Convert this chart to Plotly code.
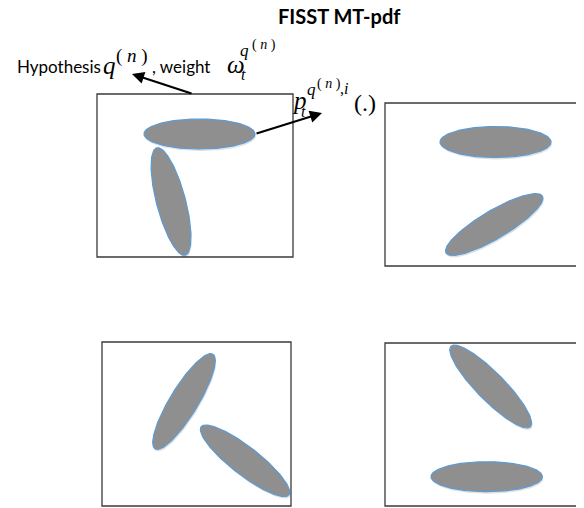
import numpy as np
import plotly.graph_objects as go

# ---- diagram data (pixel coordinates of the 584x508 canvas, y downward) ----
box_x0 = [97, 385, 102, 385]
box_y0 = [94, 103, 342, 343]
box_x1 = [293, 581, 291, 580]
box_y1 = [257, 266, 506, 506]

ell_cx = [199.5, 171.0, 495.5, 494.2, 184.0, 245.0, 490.7, 486.7]
ell_cy = [134.0, 201.5, 142.0, 224.5, 401.5, 460.8, 386.5, 476.7]
ell_a = [55.5, 55.5, 55.5, 56.0, 55.5, 55.5, 56.5, 55.7]
ell_b = [15.0, 14.5, 15.5, 14.0, 14.0, 14.0, 14.0, 15.0]
ell_angle = [0.0, 75.2, 0.0, -30.6, -58.6, 37.8, 45.4, 0.0]

title_text = "FISST MT-pdf"

W, H = 584, 508
OFF = 8  # page body margin
fig = go.Figure()

t = np.linspace(0, 2 * np.pi, 200)
for cx, cy, a, b, ang in zip(ell_cx, ell_cy, ell_a, ell_b, ell_angle):
    th = np.deg2rad(ang)
    xs = cx + a * np.cos(th) * np.cos(t) - b * np.sin(th) * np.sin(t)
    ys = cy + a * np.sin(th) * np.cos(t) + b * np.cos(th) * np.sin(t)
    fig.add_trace(go.Scatter(x=xs + 1.0, y=ys + 2.0, mode="lines", fill="toself",
                             fillcolor="rgba(0,0,0,0.12)", line=dict(width=0),
                             hoverinfo="skip", showlegend=False))
    fig.add_trace(go.Scatter(x=xs, y=ys, mode="lines", fill="toself",
                             fillcolor="#8f8f8f", line=dict(color="#5b9bd5", width=1.2),
                             hoverinfo="skip", showlegend=False))

shapes = []
for x0, y0, x1, y1 in zip(box_x0, box_y0, box_x1, box_y1):
    shapes.append(dict(type="rect", xref="x", yref="y", x0=x0, y0=y0, x1=x1, y1=y1,
                       line=dict(color="#3a3a3a", width=1.3), fillcolor="rgba(0,0,0,0)",
                       layer="below"))

sans = "Lato, 'Open Sans', sans-serif"
serif = "'Liberation Serif', 'DejaVu Serif', serif"

def txt(x, y, s, size, family, xanchor="left", yanchor="middle"):
    return dict(x=x, y=y, xref="x", yref="y", text=s, showarrow=False,
                font=dict(family=family, size=size, color="black"),
                xanchor=xanchor, yanchor=yanchor, borderpad=0)

ann = [
    txt(339, 15.5, "<b>" + title_text + "</b>", 20, sans, xanchor="center"),
    # Hypothesis q^(n), weight w_t^{q^(n)}
    txt(16, 66, "Hypothesis", 17, sans),
    txt(102, 65, "<i>q</i>", 25, serif),
    txt(115, 56, "( <i>n</i> )", 19, serif),
    txt(151, 66, ", weight", 17, sans),
    txt(226, 64, "<i>ω</i>", 25, serif),
    txt(240, 74, "<i>t</i>", 16, serif),
    txt(239, 50, "<i>q</i>", 17, serif),
    txt(251, 45, "( <i>n</i> )", 14, serif),
    # p_t^{q^(n),i}(.)
    txt(291, 100, "<i>p</i>", 25, serif),
    txt(300, 111, "<i>t</i>", 16, serif),
    txt(306, 89, "<i>q</i>", 17, serif),
    txt(316, 84, "( <i>n</i> )", 14, serif),
    txt(339, 88, ",<i>i</i>", 16, serif),
    txt(353, 103, "(.)", 24, serif),
]

ann.append(dict(x=132, y=74, ax=193, ay=94, xref="x", yref="y", axref="x", ayref="y",
                showarrow=True, arrowhead=2, arrowsize=1.1, arrowwidth=2.2,
                arrowcolor="black", text=""))
ann.append(dict(x=322, y=113, ax=255, ay=134, xref="x", yref="y", axref="x", ayref="y",
                showarrow=True, arrowhead=2, arrowsize=1.1, arrowwidth=2.2,
                arrowcolor="black", text=""))

fig.update_layout(
    width=W - OFF, height=H - OFF, margin=dict(l=0, r=0, t=0, b=0),
    paper_bgcolor="white", plot_bgcolor="white",
    xaxis=dict(range=[OFF, W], visible=False, fixedrange=True),
    yaxis=dict(range=[H, OFF], visible=False, fixedrange=True),
    shapes=shapes, annotations=ann, showlegend=False,
)

fig.write_html("out.html")
